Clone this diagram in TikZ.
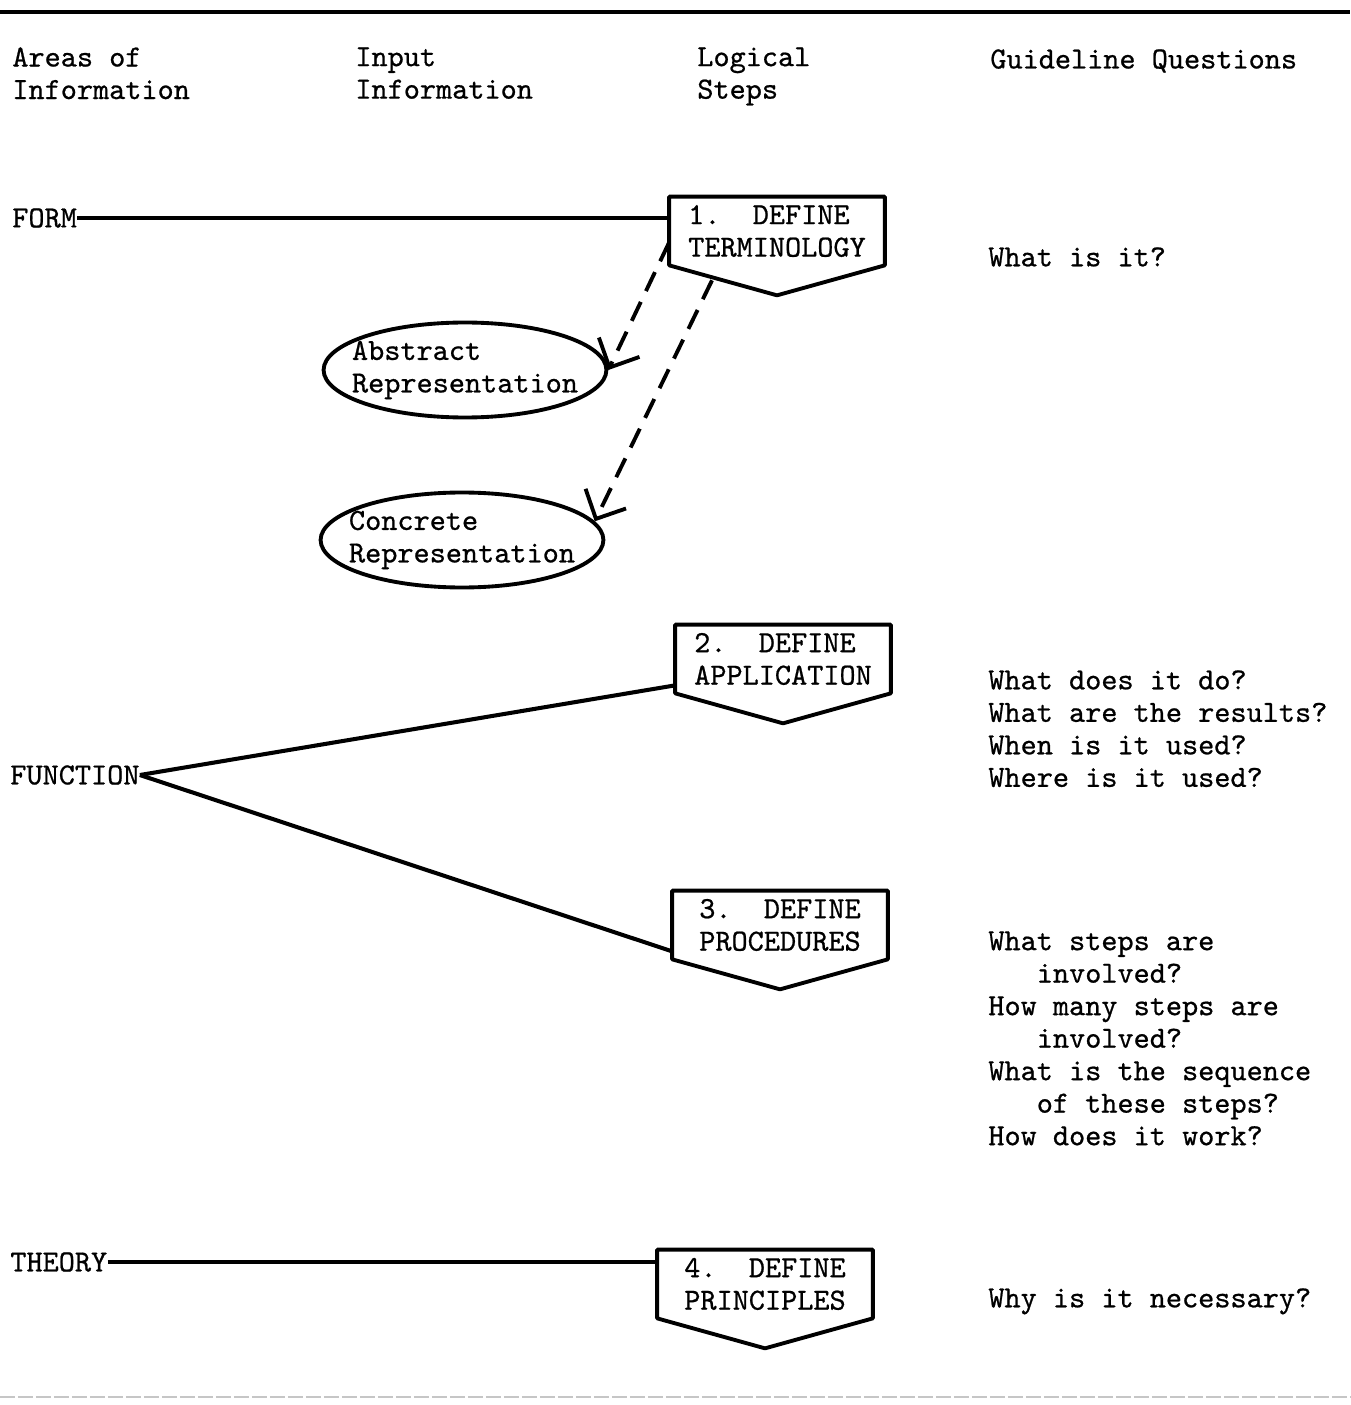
\documentclass[tikz,border=0pt]{standalone}
\usepackage{fontspec}
\setmonofont{lmmono10-regular.otf}[FakeBold=0.7]
\renewcommand{\familydefault}{\ttdefault}
\usepackage{tikz}
\usetikzlibrary{arrows.meta,positioning,shapes.geometric}

\begin{document}
\begin{tikzpicture}[
        x=0.02cm, y=-0.02cm,
        txt/.style={anchor=north west, align=left, inner sep=0pt, font=\ttfamily\fontsize{17.5}{18.5}\selectfont},
        area/.style={anchor=west, inner sep=0pt, font=\ttfamily\fontsize{17.5}{18.5}\selectfont},
        stepbox/.style={rectangle, align=left, inner sep=0pt, minimum width=4.3cm, minimum height=1.36cm, font=\ttfamily\fontsize{17.5}{18.5}\selectfont},
        rep/.style={draw, ellipse, line width=2.2pt, align=left, inner xsep=-0.26cm, inner ysep=0pt, minimum height=1.9cm, font=\ttfamily\fontsize{17.5}{18.5}\selectfont},
        outline/.style={line width=2.2pt, line join=round},
        link/.style={line width=2.3pt},
        dasharrow/.style={line width=2.2pt, dash pattern=on 0.42cm off 0.24cm, -{Straight Barb[length=0.45cm, width=0.9cm]}}]

        \useasboundingbox (0,0) rectangle (1350,1405);

        % Rules
        \draw[line width=2.2pt] (0,12) -- (1350,12);
        \draw[gray!45, line width=1.5pt, dash pattern=on 0.3cm off 0.06cm] (0,1397) -- (1350,1397);

        % Column headers
        \node[txt] (areas) at (12,47) {Areas of\\Information};
        \node[txt] (input) at (355,47) {Input\\Information};
        \node[txt] (logic) at (697,47) {Logical\\Steps};
        \node[txt] (guide) at (990,49) {Guideline Questions};

        % Areas of information
        \node[area] (form) at (12,218) {FORM};
        \node[area] (func) at (10,775) {FUNCTION};
        \node[area] (theory) at (10,1262) {THEORY};

        % Logical steps
        \node[stepbox] (terms) at (777,231) {1.\ \ DEFINE\\TERMINOLOGY};
        \node[stepbox] (appl) at (783,659) {2.\ \ DEFINE\\APPLICATION};
        \node[stepbox] (proc) at (780,925) {3.\ \ DEFINE\\PROCEDURES};
        \node[stepbox] (princ) at (765,1284) {4.\ \ DEFINE\\PRINCIPLES};

        \foreach \s in {terms,appl,proc,princ}
            \draw[outline] (\s.north west) -- (\s.north east) -- (\s.south east)
                -- ([yshift=-0.6cm]\s.south) -- (\s.south west) -- cycle;

        % Input information
        \node[rep] (abstr) at (465,370) {Abstract\\Representation};
        \node[rep] (concr) at (462,540) {Concrete\\Representation};

        % Guideline questions
        \node[txt] (q1) at (988,247) {What is it?};
        \node[txt] (q2) at (988,670) {What does it do?\\What are the results?\\When is it used?\\Where is it used?};
        \node[txt] (q3) at (988,931) {What steps are\\\phantom{Wha}involved?\\How many steps are\\\phantom{Wha}involved?\\What is the sequence\\\phantom{Wha}of these steps?\\How does it work?};
        \node[txt] (q4) at (988,1288) {Why is it necessary?};

        % Connections
        \draw[link] (form.east) -- (form.east -| terms.west);
        \draw[link] (func.east) -- ([yshift=0.16cm]appl.south west);
        \draw[link] (func.east) -- ([yshift=0.16cm]proc.south west);
        \draw[link] (theory.east) -- (theory.east -| princ.west);

        \draw[dasharrow] (terms.186) -- (abstr.east);
        \draw[dasharrow] ([xshift=-1.3cm,yshift=-0.3cm]terms.south) -- (concr.8);

    \end{tikzpicture}
\end{document}
